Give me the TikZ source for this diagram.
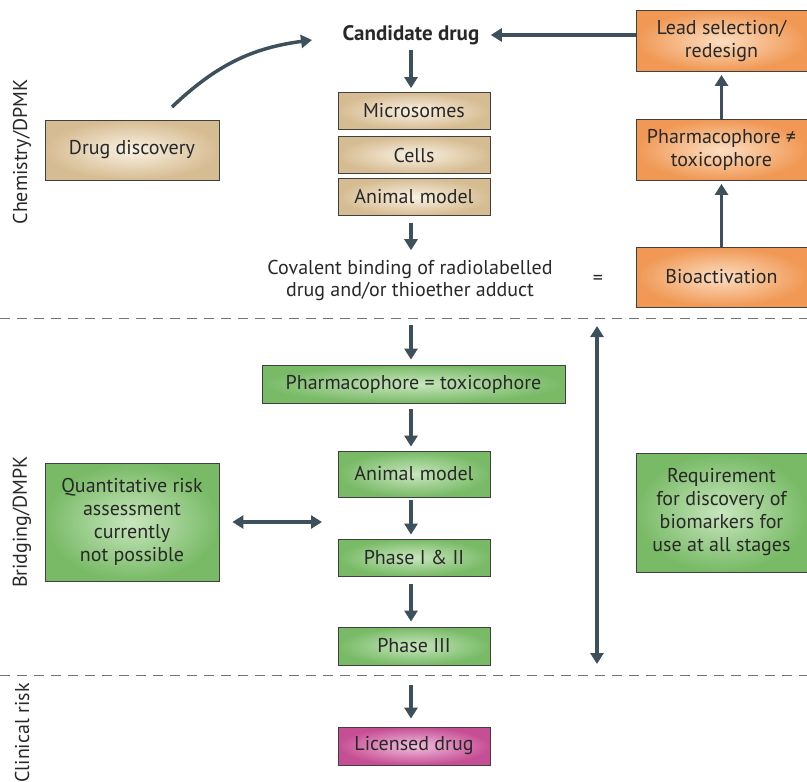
\documentclass[tikz,border=0pt]{standalone}
\usepackage{fontspec}
\setmainfont{PT Sans}
\usetikzlibrary{arrows.meta}
\definecolor{arrcol}{RGB}{62,80,92}
\definecolor{txtcol}{RGB}{40,40,40}
\definecolor{tanout}{RGB}{214,188,146}
\definecolor{tanin}{RGB}{250,242,228}
\definecolor{orout}{RGB}{240,152,84}
\definecolor{orin}{RGB}{252,222,194}
\definecolor{grout}{RGB}{120,186,102}
\definecolor{grin}{RGB}{200,230,190}
\definecolor{mgout}{RGB}{198,78,148}
\definecolor{mgin}{RGB}{240,192,222}
\tikzset{
  box/.style={draw=black!75, line width=0.8pt, shading=radial, text=txtcol,
    align=center, inner sep=2pt, font=\fontsize{20}{23}\selectfont},
  tanbox/.style={box, inner color=tanin, outer color=tanout},
  orbox/.style={box, inner color=orin, outer color=orout},
  grbox/.style={box, inner color=grin, outer color=grout},
  mgbox/.style={box, inner color=mgin, outer color=mgout},
  arr/.style={draw=arrcol, line width=3.5pt, -{Triangle[width=13pt,length=11pt]}},
  dblarr/.style={draw=arrcol, line width=3.5pt, {Triangle[width=13pt,length=11pt]}-{Triangle[width=13pt,length=11pt]}},
  sep/.style={draw=black!55, line width=0.9pt, dash pattern=on 10pt off 7pt},
  side/.style={rotate=90, text=txtcol, font=\fontsize{20}{23}\selectfont},
  plain/.style={text=txtcol, align=center, font=\fontsize{20}{22}\selectfont}
}
\begin{document}
\begin{tikzpicture}[x=1pt,y=-1pt]
\useasboundingbox (0,0) rectangle (807,782);
% section separators
\draw[sep] (0,318) -- (807,318);
\draw[sep] (0,675) -- (807,675);
\node[side] (chem) at (22,152) {Chemistry/DPMK};
\node[side] (bridge) at (22,522) {Bridging/DMPK};
\node[side] (clin) at (22,733) {Clinical risk};

% chemistry
\node[plain, font=\fontsize{21}{23}\selectfont\bfseries] (cand) at (411,35) {Candidate drug};
\node[tanbox, minimum width=152pt, minimum height=37pt] (micro) at (414,111) {Microsomes};
\node[tanbox, minimum width=152pt, minimum height=37pt] (cells) at (414,155) {Cells};
\node[tanbox, minimum width=152pt, minimum height=37pt] (anim) at (414,197) {Animal model};
\node[tanbox, minimum width=174pt, minimum height=60pt] (disc) at (132,150) {Drug discovery};
\node[plain] (cov) at (410,280) {Covalent binding of radiolabelled\\drug and/or thioether adduct};
\node[plain] (eq) at (598,280) {=};
\node[orbox, minimum width=171pt, minimum height=60pt] (bioact) at (721.5,277) {Bioactivation};
\node[orbox, minimum width=171pt, minimum height=61pt] (pnt) at (721.5,150) {Pharmacophore ≠\\toxicophore};
\node[orbox, minimum width=171pt, minimum height=61pt] (lead) at (721.5,41) {Lead selection/\\redesign};

\draw[arr] (cand.east -| lead.west) -- ([xshift=8pt]cand.east);
\draw[arr, shorten <=2pt, shorten >=4pt] (cand.south) -- (cand.south |- micro.north);
\draw[arr, shorten <=7pt, shorten >=6pt] (cand.south |- anim.south) -- (cand.south |- cov.north);
\draw[arr, shorten >=3pt] (bioact.north) -- (pnt.south);
\draw[arr, shorten >=3pt] (pnt.north) -- (lead.south);
\coordinate (dtail) at (172,107);
\coordinate (dhead) at (312,40);
\draw[arr] (dtail) to[bend left=18] (dhead);

% bridging
\coordinate (btop) at (411,325);
\node[grbox, minimum width=303pt, minimum height=38pt] (pet) at (413.5,384) {Pharmacophore = toxicophore};
\node[grbox, minimum width=152pt, minimum height=46pt] (anim2) at (414,474) {Animal model};
\node[grbox, minimum width=152pt, minimum height=37pt] (ph12) at (414,557.5) {Phase I \& II};
\node[grbox, minimum width=152pt, minimum height=38pt] (ph3) at (414,646) {Phase III};
\node[grbox, minimum width=174pt, minimum height=118pt] (qra) at (132,522) {Quantitative risk\\assessment\\currently\\not possible};
\node[grbox, minimum width=171pt, minimum height=119pt] (req) at (721.5,512.5) {Requirement\\for discovery of\\biomarkers for\\use at all stages};

\draw[arr, shorten >=5pt] (btop) -- (btop |- pet.north);
\draw[arr, shorten <=6pt, shorten >=4pt] (btop |- pet.south) -- (btop |- anim2.north);
\draw[arr, shorten <=3pt, shorten >=4pt] (btop |- anim2.south) -- (btop |- ph12.north);
\draw[arr, shorten <=8pt, shorten >=5pt] (btop |- ph12.south) -- (btop |- ph3.north);
\coordinate (qtip) at (322,522);
\draw[dblarr, shorten <=13pt] (qra.east) -- (qtip);
\coordinate (vtop) at (597,326);
\coordinate (vbot) at (597,664);
\draw[dblarr] (vtop) -- (vbot);

% clinical
\coordinate (ctop) at (411,685);
\node[mgbox, minimum width=152pt, minimum height=38pt] (lic) at (414,746) {Licensed drug};
\draw[arr, shorten >=8pt] (ctop) -- (ctop |- lic.north);
\end{tikzpicture}
\end{document}
